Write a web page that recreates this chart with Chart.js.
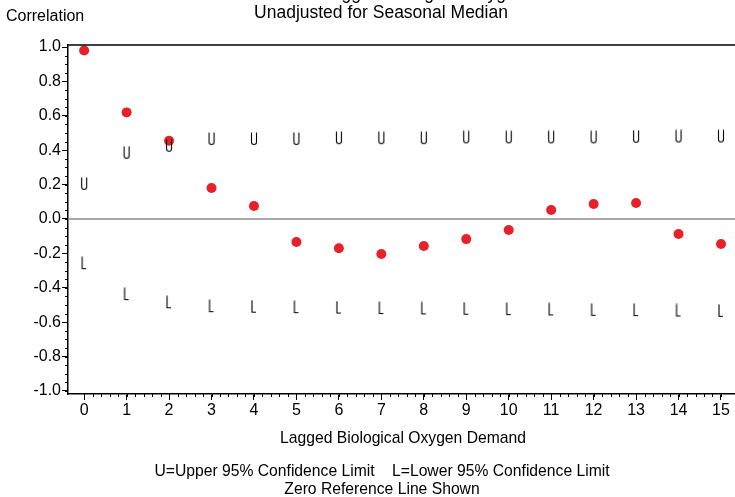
<!DOCTYPE html>
<html>
<head>
<meta charset="utf-8">
<script src="https://cdn.jsdelivr.net/npm/chart.js@4"></script>
<style>
html,body{margin:0;padding:0;background:#fff;}
#wrap{width:735px;height:497px;position:relative;}
</style>
</head>
<body>
<div id="wrap"><canvas id="c" width="735" height="497"></canvas></div>
<script>
const lags = [0,1,2,3,4,5,6,7,8,9,10,11,12,13,14,15];
const correlation = [0.98,0.62,0.455,0.18,0.076,-0.134,-0.17,-0.204,-0.157,-0.117,-0.064,0.052,0.087,0.093,-0.087,-0.146];
const upper95 = [0.204,0.385,0.426,0.465,0.465,0.465,0.47,0.47,0.47,0.475,0.475,0.475,0.475,0.478,0.48,0.48];
const lower95 = [-0.257,-0.437,-0.484,-0.507,-0.51,-0.513,-0.515,-0.518,-0.52,-0.522,-0.524,-0.526,-0.528,-0.53,-0.532,-0.534];
const yTicks = [-1.0,-0.8,-0.6,-0.4,-0.2,0.0,0.2,0.4,0.6,0.8,1.0];
const titleLines = ["Autocorrelations for Lagged Biological Oxygen Demand","Unadjusted for Seasonal Median"];
const yLabel = "Correlation";
const xLabel = "Lagged Biological Oxygen Demand";
const footnotes = ["U=Upper 95% Confidence Limit    L=Lower 95% Confidence Limit","Zero Reference Line Shown"];

const FONT = '"Liberation Sans", Arial, sans-serif';

function glyph(kind){
  const cv = document.createElement('canvas');
  cv.width = 8; cv.height = 14;
  const g = cv.getContext('2d');
  g.strokeStyle = '#000'; g.lineWidth = 1.1;
  g.beginPath();
  if (kind === 'U') {
    g.moveTo(1.5,0.5); g.lineTo(1.5,10); g.arc(4,10,2.5,Math.PI,0,true); g.lineTo(6.5,0.5);
  } else {
    g.moveTo(2,0.5); g.lineTo(2,12.5); g.lineTo(6,12.5);
  }
  g.stroke();
  return cv;
}
const uGlyph = glyph('U');
const lGlyph = glyph('L');

const decor = {
  id:'decor',
  beforeDatasetsDraw(chart){
    const {ctx, chartArea:a, scales:{x,y}} = chart;
    ctx.save();
    const y0 = y.getPixelForValue(0);
    ctx.strokeStyle = '#8c8c8c'; ctx.lineWidth = 1.5;
    ctx.beginPath(); ctx.moveTo(a.left, y0); ctx.lineTo(a.right, y0); ctx.stroke();
    ctx.restore();
  },
  afterDraw(chart){
    const {ctx, chartArea:a, scales:{x,y}} = chart;
    ctx.save();
    ctx.strokeStyle = '#000'; ctx.lineWidth = 1.5;
    ctx.beginPath(); ctx.moveTo(a.left, a.top); ctx.lineTo(a.right, a.top); ctx.stroke();
    ctx.lineWidth = 1;
    ctx.beginPath();
    for (let v = -1.0; v <= 1.0001; v += 0.05) {
      const p = Math.round(y.getPixelForValue(v)) + 0.5;
      ctx.moveTo(a.left - 3, p); ctx.lineTo(a.left, p);
    }
    for (let v = 0; v <= 15.0001; v += 0.2) {
      const p = Math.round(x.getPixelForValue(v)) + 0.5;
      ctx.moveTo(p, a.bottom); ctx.lineTo(p, a.bottom + 3);
    }
    ctx.stroke();
    ctx.fillStyle = '#000';
    ctx.textAlign = 'center';
    ctx.textBaseline = 'alphabetic';
    ctx.font = '17.5px ' + FONT;
    ctx.fillText(titleLines[0], 381, -1);
    ctx.fillText(titleLines[1], 381, 18);
    ctx.textAlign = 'left';
    ctx.font = '16px ' + FONT;
    ctx.fillText(yLabel, 6, 21);
    ctx.textAlign = 'center';
    ctx.font = '15.7px ' + FONT;
    ctx.fillText(xLabel, 403, 443);
    ctx.fillText(footnotes[0], 382, 476);
    ctx.fillText(footnotes[1], 382, 494);
    ctx.restore();
  }
};

new Chart(document.getElementById('c'), {
  type: 'scatter',
  data: {
    datasets: [
      { label:'Upper', data: lags.map((l,i)=>({x:l, y:upper95[i]})), pointStyle: uGlyph, pointRadius: 7, pointHoverRadius: 7 },
      { label:'Lower', data: lags.map((l,i)=>({x:l, y:lower95[i]})), pointStyle: lGlyph, pointRadius: 7, pointHoverRadius: 7 },
      { label:'Correlation', data: lags.map((l,i)=>({x:l, y:correlation[i]})), pointStyle:'circle', pointRadius: 5, pointHoverRadius: 5,
        backgroundColor:'#e8202a', borderColor:'#e8202a', borderWidth:0 }
    ]
  },
  options: {
    responsive:false, animation:false, events:[],
    layout:{ autoPadding:false, padding:{ top:45, left:0, right:0, bottom:0 } },
    plugins:{ legend:{display:false}, tooltip:{enabled:false}, title:{display:false} },
    scales:{
      x:{
        type:'linear', min:-0.38, max:15.33,
        afterBuildTicks(s){ s.ticks = lags.map(v=>({value:v})); },
        afterFit(s){ s.height = 103; s.paddingRight = 0; s.paddingLeft = 0; },
        grid:{ drawOnChartArea:false, drawTicks:true, tickLength:6, color:'#000', lineWidth:1 },
        border:{ display:true, color:'#000', width:1.5 },
        ticks:{ color:'#000', padding:1, maxRotation:0, autoSkip:false, font:{ family:FONT, size:16 }, callback:v=>String(v) }
      },
      y:{
        type:'linear', min:-1.018, max:1.012,
        afterBuildTicks(s){ s.ticks = yTicks.map(v=>({value:v})); },
        afterFit(s){ s.width = 68; s.paddingTop = 0; s.paddingBottom = 0; },
        grid:{ drawOnChartArea:false, drawTicks:true, tickLength:6, color:'#000', lineWidth:1 },
        border:{ display:true, color:'#000', width:1.5 },
        ticks:{ color:'#000', padding:1, autoSkip:false, font:{ family:FONT, size:16 }, callback:v=>Number(v).toFixed(1) }
      }
    }
  },
  plugins:[decor]
});
</script>
</body>
</html>
